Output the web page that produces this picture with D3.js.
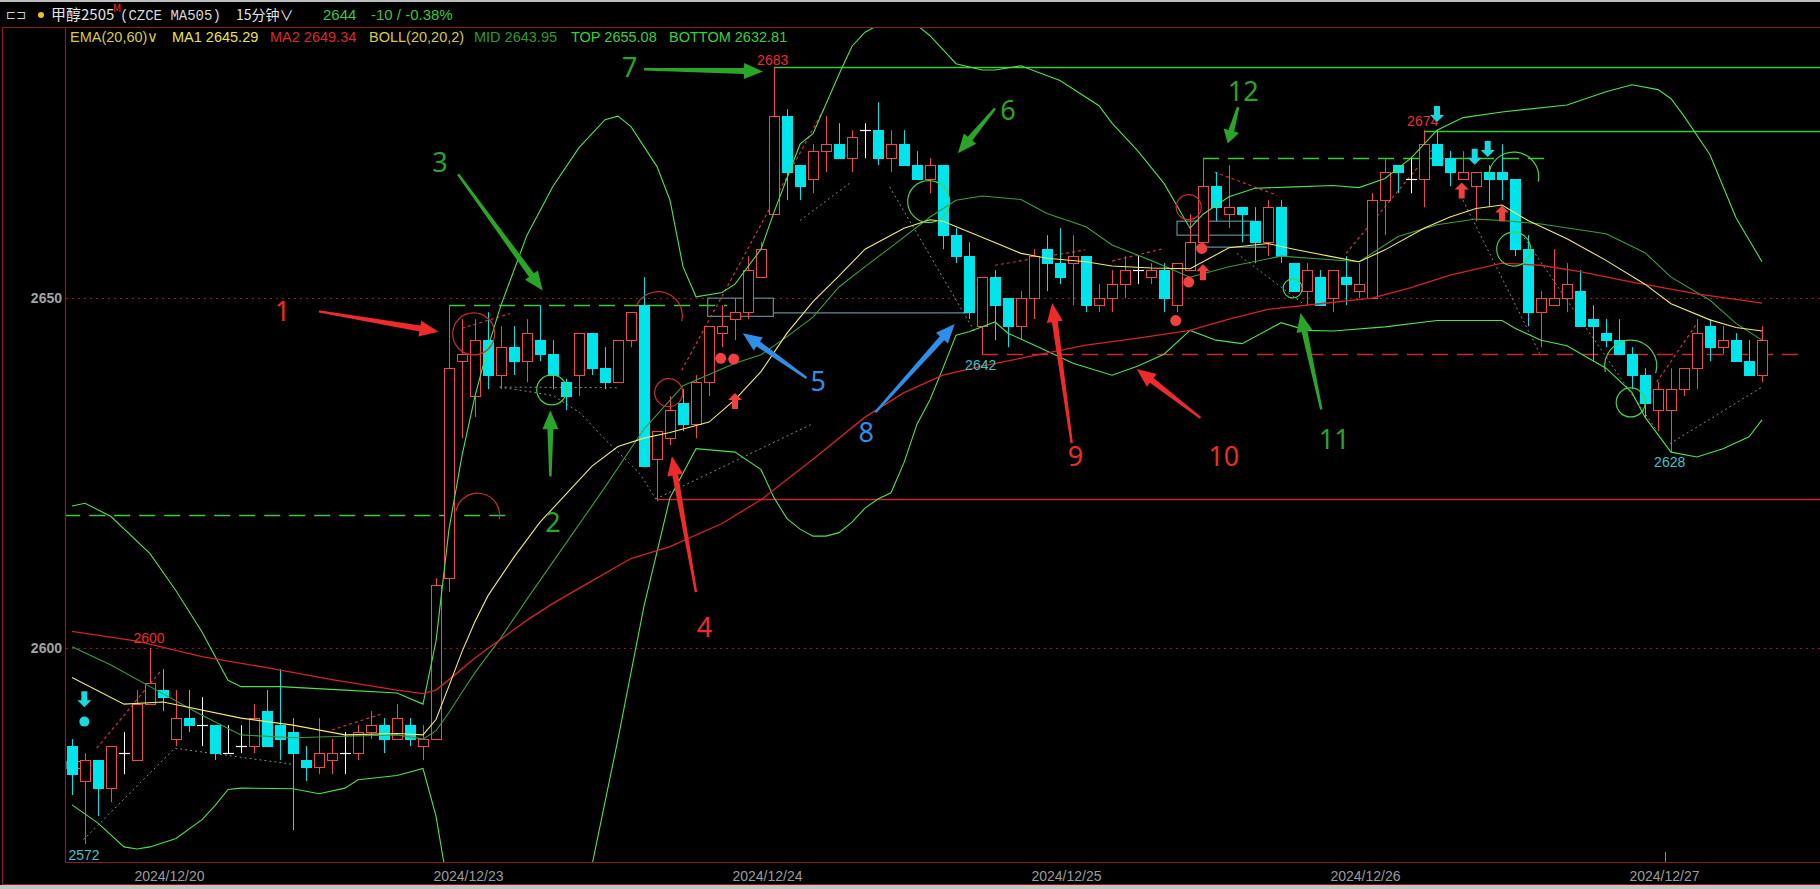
<!DOCTYPE html>
<html><head><meta charset="utf-8">
<script src="https://cdn.jsdelivr.net/npm/d3@7"></script>
<style>body{margin:0;background:#000;overflow:hidden}svg{display:block}</style>
</head><body><svg id="c" width="1820" height="889"></svg>
<script>
// ---------- data (15-minute bars, 甲醇2505) ----------
const open  = [2586,2581,2584,2580,2585,2584,2592,2594,2587,2590,2589,2589,2585,2586,2586,2591,2589,2588,2584,2583,2584,2585,2585,2588,2589,2587,2589,2586,2587,2610,2641,2636,2644,2639,2643,2641,2644,2642,2638,2639,2645,2640,2638,2644,2649,2627,2630,2635,2632,2638,2645,2647,2648,2653,2662,2676,2669,2667,2671,2672,2670,2674,2674,2670,2672,2669,2667,2669,2659,2656,2646,2653,2650,2646,2650,2657,2655,2655,2656,2649,2650,2652,2654,2653,2654,2649,2654,2658,2666,2662,2663,2661,2658,2663,2655,2651,2653,2650,2653,2651,2650,2664,2669,2667,2667,2672,2670,2667,2666,2668,2668,2667,2657,2648,2649,2650,2651,2647,2645,2644,2642,2639,2634,2634,2637,2640,2646,2643,2644,2641,2639];
const high  = [2587,2585,2584,2586,2588,2594,2600,2597,2594,2594,2593,2589,2589,2589,2592,2594,2597,2590,2586,2590,2587,2588,2589,2591,2590,2592,2590,2589,2610,2649,2647,2647,2648,2646,2646,2647,2649,2644,2638.5,2645,2645,2643,2644,2648,2653,2631,2636,2637,2639,2646,2649,2650,2656,2658,2683,2677,2669,2672,2676,2675,2674,2675,2678,2674,2674,2671,2670,2669,2660,2658,2653,2654,2650,2651,2657,2659,2660,2659,2656,2652,2654,2656,2656,2655,2655,2655,2662,2670,2668,2669,2663,2663,2664,2664,2655,2655,2654,2654,2656,2655,2665,2670,2669,2670,2674,2674,2671,2671,2668,2669,2672,2667,2659,2651,2657,2655,2654,2649,2647,2647,2643,2640,2638,2640,2640,2647,2647,2646,2645,2644,2646];
const low   = [2579,2572,2576,2578,2582,2584,2592,2591,2586,2588,2586,2584,2585,2585,2585,2586,2584,2574,2581,2582,2582,2582,2584,2587,2585,2587,2586,2584,2587,2608,2630,2633,2637,2637,2639,2638,2641,2637,2634,2636,2639,2637,2638,2643,2626,2621,2629,2631,2630,2636,2643,2644,2647,2653,2662,2664,2664,2665,2668,2670,2668,2670,2669,2668,2669,2667,2665,2657,2655,2647,2642,2644,2643,2644,2647,2651,2652,2649,2648,2648,2648,2650,2652,2652,2648,2648,2654,2657,2661,2660,2658,2655,2656,2655,2651,2649,2649,2648,2649,2650,2650,2659,2665,2665,2663,2669,2666,2667,2661,2663,2664,2656,2646,2643,2649,2648,2646,2641,2643,2642,2637,2633,2631,2628,2636,2637,2641,2642,2641,2639,2638];
const close = [2582,2584,2580,2586,2585,2592,2595,2593,2590,2589,2589,2585,2585,2586,2590,2586,2587,2585,2583,2585,2585,2585,2588,2589,2587,2590,2587,2587,2609,2640,2642,2644,2639,2643,2641,2645,2642,2639,2636,2645,2640,2638,2644,2648,2626,2631,2634,2632,2638,2646,2646,2648,2654,2657,2676,2668,2666,2671,2672,2670,2673,2674,2670,2672,2669,2667,2669,2659,2656,2648,2653,2649,2646,2650,2656,2655,2653,2656,2649,2650,2652,2654,2654,2654,2650,2655,2658,2666,2663,2663,2662,2658,2663,2656,2651,2654,2649,2654,2652,2652,2664,2668,2668,2667,2672,2669,2668,2668,2668,2667,2667,2657,2648,2650,2650,2652,2646,2646,2644,2642,2639,2635,2637,2637,2640,2645,2643,2644,2641,2639,2644];

// indicator lines: [bar index, price]
const ema20 = [[0,2595.8],[4,2592],[7,2592.3],[13,2590],[17,2589],[21,2587.6],[25,2587.8],[27,2587.6],[28,2589.8],[29,2594.6],[30,2599.5],[31,2603.8],[32,2607.5],[34,2613],[36,2618],[38,2622],[40,2626],[42,2628.8],[44,2630],[46,2630.8],[49,2632.3],[51,2635.5],[53,2639.5],[55,2645],[57,2649.5],[59,2653.2],[61,2657],[64,2660],[66,2661.2],[67,2661],[70,2658.7],[73,2656.4],[75,2655.7],[78,2655.2],[80,2654.6],[83,2654.3],[86,2654.2],[89,2657.2],[92,2657.8],[94,2657],[97,2655.9],[99,2655.2],[101,2656.9],[104,2660],[106,2661.6],[108,2662.8],[110,2663.3],[112,2661.1],[115,2658.5],[118,2655.4],[121,2652],[123,2649.2],[126,2646.9],[128,2645.8],[130,2645.3]];
const ema60 = [[0,2602.4],[5,2601],[10,2598.8],[15,2597.2],[20,2595.5],[25,2594],[27,2593.5],[28,2594],[29,2595.5],[31,2598.6],[33,2601.3],[35,2604],[37,2606.4],[40,2609.6],[43,2612.8],[46,2614.5],[50,2617.8],[53,2621.2],[57,2627],[61,2633],[64,2636.5],[67,2639],[70,2640.3],[74,2641.8],[78,2643.3],[82,2644.3],[86,2645.4],[89,2647],[92,2648.4],[96,2649.2],[100,2650],[103,2651.5],[106,2653.3],[110,2655],[113,2654.7],[116,2653.8],[120,2652.3],[125,2650.6],[130,2649.3]];
const bollMid = [[0,2600.2],[3,2597.6],[6,2594.5],[10,2590.4],[13,2587.6],[17,2587.2],[21,2587.4],[25,2587.6],[27,2587],[28,2588.2],[29,2590.8],[30,2593.7],[31,2596.5],[33,2601.5],[35,2607],[38,2615],[41,2623],[44,2631.3],[47,2637.5],[51,2640.7],[53,2641.9],[55,2644.5],[57,2647.3],[59,2651.6],[61,2654.5],[63,2657.3],[66,2661.6],[68,2664],[70,2664.6],[73,2664.1],[75,2662.1],[78,2660.2],[80,2657.6],[83,2655.4],[86,2653],[89,2654.5],[93,2656],[99,2655.2],[102,2658.8],[105,2660.5],[108,2661.3],[110,2661.1],[113,2660.6],[118,2659.2],[121,2656.5],[123,2653],[126,2649.7],[128,2646.4],[130,2644]];
const bollTop = [[0,2620.3],[1,2620.7],[3,2618.8],[6,2613.5],[8,2608.2],[10,2602.3],[12,2595.4],[13,2594.5],[16,2594.5],[21,2594],[25,2593.6],[27,2592],[28,2601],[29,2617],[30,2627.5],[31,2636],[32,2643],[33,2649],[35,2659],[37,2666],[39,2671.5],[41,2675.5],[42,2676],[43,2674.5],[45,2668.8],[46,2664],[47,2654.5],[48,2650.2],[50,2650.8],[51,2652],[53,2657],[54,2662.3],[56,2672],[57,2673.5],[59,2682],[60,2686],[61,2688],[62,2689],[63,2689.5],[64,2689.5],[65,2689],[66,2687.5],[67,2685.5],[68,2683.5],[70,2682.6],[71,2682.6],[73,2683.2],[74,2682.5],[76,2681.1],[79,2677.5],[80,2675],[82,2671],[84,2666.4],[86,2660],[87,2662],[89,2664.5],[91,2665.7],[94,2665.9],[97,2666.1],[99,2665.8],[101,2667.1],[103,2670],[105,2674],[107,2675.8],[110,2676.6],[115,2677.6],[118,2679.5],[120,2680.5],[122,2679.8],[123,2678.5],[124,2676],[126,2670.5],[128,2661.5],[130,2655.2]];
const bollBot = [[0,2577.6],[2,2575],[4,2571.6],[5,2571.3],[6,2571.6],[8,2572.8],[10,2575.5],[11,2577.5],[12,2579.8],[13,2580],[17,2579.9],[19,2579.2],[21,2580],[22,2581.2],[25,2581.8],[27,2582.8],[28,2576],[29,2565],[30,2558],[32,2550],[35,2548],[37,2552],[39,2562],[40,2569],[42,2587],[44,2606],[46,2621.5],[48,2628.5],[51,2628],[53,2625.5],[54,2621.5],[55,2618.5],[56,2617],[57,2616],[58,2616],[59,2616.5],[60,2618],[61,2620],[62,2621.3],[63,2622.2],[64,2626.5],[65,2632],[66,2635.5],[67,2640],[68,2644.7],[69,2645.2],[71,2646.6],[72,2645],[74,2643.3],[77,2640.7],[80,2639],[82,2640.3],[84,2642],[86,2645.4],[88,2644],[90,2643.5],[93,2646.5],[95,2645.4],[97,2645.3],[101,2645.9],[105,2646.8],[110,2646.8],[111,2645.7],[113,2644],[115,2643.2],[118,2640],[120,2636.5],[121,2633],[123,2628],[125,2627.3],[127,2628.5],[129,2630.2],[130,2632.6]];

const dateLabels = ["2024/12/20","2024/12/23","2024/12/24","2024/12/25","2024/12/26","2024/12/27"];
const dateBars   = [8,31,54,77,100,123];
const yTicks = [2600, 2650];

// annotations in data units [bar index, price]
const bigArrows = [
  {t:"1", c:"red",   tail:[19.0,2648.1], tip:[28.2,2645.2], at:[16.2,2648.1]},
  {t:"2", c:"green", tail:[36.8,2624.5], tip:[36.8,2634.0], at:[37.0,2618.0]},
  {t:"3", c:"green", tail:[29.7,2667.7], tip:[36.2,2651.1], at:[28.3,2669.4]},
  {t:"4", c:"red",   tail:[48.0,2608.0], tip:[46.15,2627.4], at:[48.65,2603.0]},
  {t:"5", c:"blue",  tail:[56.5,2638.6], tip:[51.6,2645.0], at:[57.4,2638.1]},
  {t:"6", c:"green", tail:[71.0,2677.1], tip:[68.15,2670.7], at:[72.0,2676.9]},
  {t:"7", c:"green", tail:[44.0,2682.7], tip:[53.15,2682.4], at:[42.9,2683.0]},
  {t:"8", c:"blue",  tail:[61.8,2633.7], tip:[67.9,2646.3], at:[61.1,2630.9]},
  {t:"9", c:"red",   tail:[76.9,2629.3], tip:[75.4,2649.3], at:[77.2,2627.4]},
  {t:"10",c:"red",   tail:[86.8,2632.9], tip:[81.9,2639.9], at:[88.6,2627.4]},
  {t:"11",c:"green", tail:[96.1,2634.1], tip:[94.5,2647.9], at:[97.1,2629.9]},
  {t:"12",c:"green", tail:[89.7,2677.3], tip:[88.9,2672.1], at:[90.1,2679.6]}
];
const levelLines = [
  {c:"green", dash:true,  v:2619,   from:-0.6, to:33.7},
  {c:"green", dash:true,  v:2649,   from:29,   to:50.4},
  {c:"green", dash:false, v:2683,   from:54,   to:135},
  {c:"green", dash:false, v:2673.9, from:104,  to:135},
  {c:"green", dash:true,  v:2670,   from:87,   to:113.9},
  {c:"red",   dash:false, v:2621.3, from:45,   to:135},
  {c:"red",   dash:true,  v:2642,   from:70,   to:132.9}
];
const boxes = [
  {a:[48.9,2650.0], b:[53.95,2647.4]},
  {a:[85.0,2661.0], b:[90.9,2659.0]},
  {a:[-0.4,2583.8], b:[0.95,2582.8]}
];
const boxLines = [[[53.95,2647.9],[68.9,2647.9]],[[85.9,2657.3],[91.9,2657.3]]];
const grayTrend = [
  [[0.87,2572.6],[7.9,2585.7],[17,2583.4]],
  [[32.9,2637.3],[41.9,2637.2]],
  [[32.9,2637.3],[37,2636.1],[39.1,2633.6],[40.8,2630.2],[43.7,2624.9],[44.9,2621.3]],
  [[44.9,2621.3],[56.9,2632.0]],
  [[56,2661.1],[59.8,2666.4]],
  [[62.9,2665.9],[69.5,2645]],
  [[89.6,2656.4],[94.7,2649.2]],
  [[107,2664],[112.9,2642.1]],
  [[110.6,2661.6],[121.9,2631.1]],
  [[122.9,2629.2],[130,2637.3]]
];
const redTrend = [
  [[1.9,2585.7],[6.9,2596.9]],
  [[20,2588.3],[23.8,2590.6]],
  [[30,2645.7],[33.7,2647.8]],
  [[46.9,2639.7],[57.8,2676.9]],
  [[71,2654.7],[77.9,2656.9]],
  [[80,2655.3],[84,2657.1]],
  [[87.9,2668],[92.7,2664.7]],
  [[98,2656.4],[105,2672]],
  [[121.9,2638],[125,2646.4]]
];
const rings = [
  {c:"red",   at:[30.9,2644.9],  r:21},
  {c:"green", at:[36.9,2636.9],  r:15},
  {c:"red",   at:[45.9,2636.5],  r:14},
  {c:"green", at:[65.9,2663.8],  r:21},
  {c:"red",   at:[85.9,2663.0],  r:12.5},
  {c:"green", at:[93.9,2651.4],  r:9.5},
  {c:"green", at:[110.9,2657.0], r:17},
  {c:"green", at:[119.9,2635.1], r:14.5}
];
const arcs = [
  {c:"red",   at:[45.1,2647.5],  r:24, a0:-1.2, a1:1.8},
  {c:"red",   at:[31.2,2619.0],  r:22, a0:-1.4, a1:1.75},
  {c:"green", at:[119.9,2640.3], r:26, a0:-1.8, a1:1.85},
  {c:"green", at:[110.9,2667.3], r:25, a0:-1.57,a1:1.75}
];
const redDots  = [[49.9,2641.4],[50.9,2641.3],[86.9,2657.1],[85.9,2652.3],[84.9,2646.8]];
const cyanDots = [[0.95,2589.5]];
const upMarks  = [[51,2635.3],[87,2653.7],[106.9,2665.4],[110,2662.1]];
const downMarks= [[0.95,2592.7],[105,2676.3],[107.9,2670.2],[108.9,2671.3]];
const priceTags = [
  {t:"2683", c:"red",  at:[53.9,2684.1]},
  {t:"2674", c:"red",  at:[103.9,2675.3]},
  {t:"2600", c:"red",  at:[5.92,2601.4]},
  {t:"2642", c:"cyan", at:[69.9,2640.4]},
  {t:"2628", c:"cyan", at:[122.9,2626.6]},
  {t:"2572", c:"cyan", at:[0.92,2570.4]}
];

// ---------- drawing ----------
const COL = {red:"#ee2b2b", green:"#2aa52a", blue:"#2e8fe8", cyan:"#3cc6cc"};
const UP = "#f04848", DOWN = "#00e4ec";
const svg = d3.select("#c");
const N = open.length;
const xb = d3.scaleBand().domain(d3.range(N)).range([65.5, 65.5 + N*13]).paddingInner(0.23).paddingOuter(0.115);
const xl = d3.scaleLinear().domain([0, N-1]).range([xb(0)+xb.bandwidth()/2, xb(N-1)+xb.bandwidth()/2]);
const y = d3.scaleLinear().domain([2569.3, 2688.6]).range([863, 28]);
const P = p => [xl(p[0]), y(p[1])];

svg.append("rect").attr("width",1820).attr("height",889).attr("fill","#000");
svg.append("rect").attr("x",0).attr("y",0).attr("width",1820).attr("height",2).attr("fill","#bdbdbd");
svg.append("rect").attr("x",0).attr("y",885).attr("width",1820).attr("height",4).attr("fill","#c4c4c4");

const defs = svg.append("defs");
defs.append("clipPath").attr("id","pc").append("rect").attr("x",66).attr("y",28).attr("width",1754).attr("height",834);

// borders
const BR = "#8a1c1c";
const bd = svg.append("g").attr("stroke",BR).attr("stroke-width",1.2);
bd.append("line").attr("x1",2.5).attr("x2",2.5).attr("y1",27).attr("y2",885);
bd.append("line").attr("x1",2).attr("x2",1820).attr("y1",27.5).attr("y2",27.5);
bd.append("line").attr("x1",65.5).attr("x2",65.5).attr("y1",27).attr("y2",863);
bd.append("line").attr("x1",65).attr("x2",1820).attr("y1",862.5).attr("y2",862.5);
bd.append("line").attr("x1",2).attr("x2",1820).attr("y1",884.5).attr("y2",884.5);

// y axis labels
svg.append("g").selectAll("text").data(yTicks).join("text")
  .attr("x",62).attr("y",d=>y(d)).attr("dy","0.36em").attr("text-anchor","end")
  .attr("font-family","Liberation Sans, Arial, sans-serif").attr("font-weight","bold").attr("font-size",14)
  .attr("fill","#a4a4a4").text(d=>d);

// x axis date labels
svg.append("g").selectAll("text").data(dateLabels).join("text")
  .attr("x",(d,k)=>xl(dateBars[k]-0.5)).attr("y",876).attr("dy","0.35em").attr("text-anchor","middle")
  .attr("font-family","Liberation Sans, Arial, sans-serif").attr("font-size",14).attr("fill","#9c9c9c").text(d=>d);
svg.append("line").attr("x1",Math.round(xl(122.5))+0.5).attr("x2",Math.round(xl(122.5))+0.5).attr("y1",852).attr("y2",862).attr("stroke","#888");

const g = svg.append("g").attr("clip-path","url(#pc)");

// dotted grid
g.append("g").selectAll("line").data(yTicks).join("line")
  .attr("x1",66).attr("x2",1820).attr("y1",d=>Math.round(y(d))+0.5).attr("y2",d=>Math.round(y(d))+0.5)
  .attr("stroke","#8a1e1e").attr("stroke-dasharray","2,4");

// level lines
g.append("g").selectAll("line").data(levelLines).join("line")
  .attr("x1",d=>xl(d.from)).attr("x2",d=>xl(d.to))
  .attr("y1",d=>Math.round(y(d.v))+0.5).attr("y2",d=>Math.round(y(d.v))+0.5)
  .attr("stroke",d=>d.c==="red"?"#c82828":"#3cc83c").attr("stroke-width",1.3)
  .attr("stroke-dasharray",d=>d.dash?"16,9":null);

// boxes
g.append("g").selectAll("rect").data(boxes).join("rect")
  .attr("x",d=>xl(d.a[0])).attr("y",d=>y(d.a[1]))
  .attr("width",d=>xl(d.b[0])-xl(d.a[0])).attr("height",d=>y(d.b[1])-y(d.a[1]))
  .attr("fill","none").attr("stroke","#5f8c96").attr("stroke-width",1.2);
const line = d3.line().x(d=>xl(d[0])).y(d=>y(d[1]));
g.append("g").selectAll("path").data(boxLines).join("path").attr("d",line)
  .attr("fill","none").attr("stroke","#5f8c96").attr("stroke-width",1.2);

// dotted trend lines
g.append("g").selectAll("path").data(grayTrend).join("path").attr("d",line)
  .attr("fill","none").attr("stroke","#7d8e90").attr("stroke-width",1).attr("stroke-dasharray","2,3");
g.append("g").selectAll("path").data(redTrend).join("path").attr("d",line)
  .attr("fill","none").attr("stroke","#d03434").attr("stroke-width",1.2).attr("stroke-dasharray","3,3");

// candles
const cg = g.append("g");
const dir = i => close[i]>open[i] ? 1 : (close[i]<open[i] ? -1 : 0);
const colr = i => dir(i)>0 ? UP : (dir(i)<0 ? DOWN : "#ffffff");
const cx = i => Math.round(xb(i)) + 5.5;
cg.selectAll("line.w").data(d3.range(N)).join("line").attr("class","w")
  .attr("x1",cx).attr("x2",cx).attr("y1",i=>y(high[i])).attr("y2",i=>y(low[i]))
  .attr("stroke",colr).attr("stroke-width",1);
cg.selectAll("rect.b").data(d3.range(N).filter(i=>dir(i)!==0)).join("rect").attr("class","b")
  .attr("x",i=>Math.round(xb(i))+0.5)
  .attr("y",i=>Math.round(y(Math.max(open[i],close[i])))+0.5)
  .attr("width",10)
  .attr("height",i=>Math.max(1,Math.round(Math.abs(y(open[i])-y(close[i])))))
  .attr("fill",i=>dir(i)>0?"#000":DOWN).attr("stroke",colr).attr("stroke-width",1);
cg.selectAll("line.d").data(d3.range(N).filter(i=>dir(i)===0)).join("line").attr("class","d")
  .attr("x1",i=>Math.round(xb(i))).attr("x2",i=>Math.round(xb(i))+11)
  .attr("y1",i=>Math.round(y(open[i]))+0.5).attr("y2",i=>Math.round(y(open[i]))+0.5)
  .attr("stroke","#fff").attr("stroke-width",1.2);

// indicator lines
const series = [
  {d:bollTop, c:"#4ee24e", w:1.1},
  {d:bollBot, c:"#4ee24e", w:1.1},
  {d:bollMid, c:"#3a9e3a", w:1.1},
  {d:ema60,   c:"#d42424", w:1.3},
  {d:ema20,   c:"#f2ec6a", w:1.1}
];
g.append("g").selectAll("path").data(series).join("path")
  .attr("d",s=>line(s.d)).attr("fill","none").attr("stroke",s=>s.c).attr("stroke-width",s=>s.w);

// rings and arcs
g.append("g").selectAll("circle").data(rings).join("circle")
  .attr("cx",d=>xl(d.at[0])).attr("cy",d=>y(d.at[1])).attr("r",d=>d.r)
  .attr("fill","none").attr("stroke",d=>d.c==="red"?"#c83030":"#4ad04a").attr("stroke-width",1.2);
g.append("g").selectAll("path").data(arcs).join("path")
  .attr("transform",d=>`translate(${xl(d.at[0])},${y(d.at[1])})`)
  .attr("d",d=>{const p=d3.path(); p.arc(0,0,d.r,d.a0-Math.PI/2,d.a1-Math.PI/2); return p.toString();})
  .attr("fill","none").attr("stroke",d=>d.c==="red"?"#c83030":"#4ad04a").attr("stroke-width",1.2);

// dots
g.append("g").selectAll("circle").data(redDots).join("circle")
  .attr("cx",d=>xl(d[0])).attr("cy",d=>y(d[1])).attr("r",5.5).attr("fill","#f04040");
g.append("g").selectAll("circle").data(cyanDots).join("circle")
  .attr("cx",d=>xl(d[0])).attr("cy",d=>y(d[1])).attr("r",5).attr("fill","#19d8e0");

// price tags
g.append("g").selectAll("text").data(priceTags).join("text")
  .attr("x",d=>xl(d.at[0])).attr("y",d=>y(d.at[1])).attr("dy","0.36em").attr("text-anchor","middle")
  .attr("font-family","Liberation Sans, Arial, sans-serif").attr("font-size",14)
  .attr("fill",d=>COL[d.c]).text(d=>d.t);

// block arrows
function block(cxp, cyp, up){
  const s = up ? 1 : -1;
  const pts = [[0,-8],[7,-1],[3,-1],[3,8],[-3,8],[-3,-1],[-7,-1]].map(p=>[cxp+p[0], cyp+p[1]*s]);
  return "M"+pts.map(p=>p.join(",")).join("L")+"Z";
}
g.append("g").selectAll("path").data(upMarks).join("path")
  .attr("d",d=>block(xl(d[0]),y(d[1]),true)).attr("fill","#f04040");
g.append("g").selectAll("path").data(downMarks).join("path")
  .attr("d",d=>block(xl(d[0]),y(d[1]),false)).attr("fill","#19d8e0");

// big tapered arrows
function arrowPath(a,b){
  const [x1,y1]=P(a), [x2,y2]=P(b);
  const dx=x2-x1, dy=y2-y1, L=Math.hypot(dx,dy), ux=dx/L, uy=dy/L, nx=-uy, ny=ux;
  const hl=Math.min(19, L*0.35), hw=8, w0=1.2, w1=3;
  const bx=x2-ux*hl, by=y2-uy*hl;
  const pts=[[x1+nx*w0,y1+ny*w0],[bx+nx*w1,by+ny*w1],[bx+nx*hw,by+ny*hw],[x2,y2],[bx-nx*hw,by-ny*hw],[bx-nx*w1,by-ny*w1],[x1-nx*w0,y1-ny*w0]];
  return "M"+pts.map(p=>p.map(v=>v.toFixed(1)).join(",")).join("L")+"Z";
}
const ag = svg.append("g");
ag.selectAll("path").data(bigArrows).join("path").attr("d",d=>arrowPath(d.tail,d.tip)).attr("fill",d=>COL[d.c]);
ag.selectAll("text").data(bigArrows).join("text")
  .attr("x",d=>xl(d.at[0])).attr("y",d=>y(d.at[1])).attr("dy","0.36em").attr("text-anchor","middle")
  .attr("font-family","Noto Sans, Liberation Sans, sans-serif").attr("font-size",27)
  .attr("fill",d=>COL[d.c]).text(d=>d.t);

// header
const hf = "Noto Sans CJK SC, Noto Sans, sans-serif";
const hd = svg.append("g").attr("font-size",14);
hd.append("text").attr("x",6).attr("y",19).attr("font-family","DejaVu Sans").attr("font-size",12).attr("fill","#cfcfcf").text("⊏⊐");
hd.append("circle").attr("cx",41).attr("cy",15).attr("r",3).attr("fill","#e6c224");
hd.append("text").attr("x",51).attr("y",20).attr("font-family",hf).attr("font-size",15).attr("fill","#e4e4e4").text("甲醇2505");
hd.append("text").attr("x",113).attr("y",12).attr("font-family",hf).attr("font-size",10).attr("fill","#e83030").text("M");
hd.append("text").attr("x",120).attr("y",20).attr("font-family","Liberation Mono, monospace").attr("fill","#d8d8d8").text("(CZCE MA505)");
hd.append("text").attr("x",236).attr("y",20).attr("font-family",hf).attr("fill","#e4e4e4").text("15分钟∨");
hd.append("text").attr("x",323).attr("y",20).attr("font-family","Liberation Sans, Arial").attr("font-size",15).attr("fill","#3fc43f").text("2644");
hd.append("text").attr("x",371).attr("y",20).attr("font-family","Liberation Sans, Arial").attr("font-size",15).attr("fill","#3fc43f").text("-10 / -0.38%");

// legend
const legendItems = [
  {t:"EMA(20,60)∨", x:70,  c:"#d8ca44"},
  {t:"MA1 2645.29", x:172, c:"#ece252"},
  {t:"MA2 2649.34", x:270, c:"#d62a2a"},
  {t:"BOLL(20,20,2)", x:369, c:"#d8ca44"},
  {t:"MID 2643.95", x:474, c:"#2f9a2f"},
  {t:"TOP 2655.08", x:571, c:"#3ccf3c"},
  {t:"BOTTOM 2632.81", x:669, c:"#3ccf3c"}
];
svg.append("g").selectAll("text").data(legendItems).join("text")
  .attr("x",d=>d.x).attr("y",42).attr("font-family","Liberation Sans, Arial, sans-serif").attr("font-size",14.5)
  .attr("fill",d=>d.c).text(d=>d.t);
</script>
</body></html>
